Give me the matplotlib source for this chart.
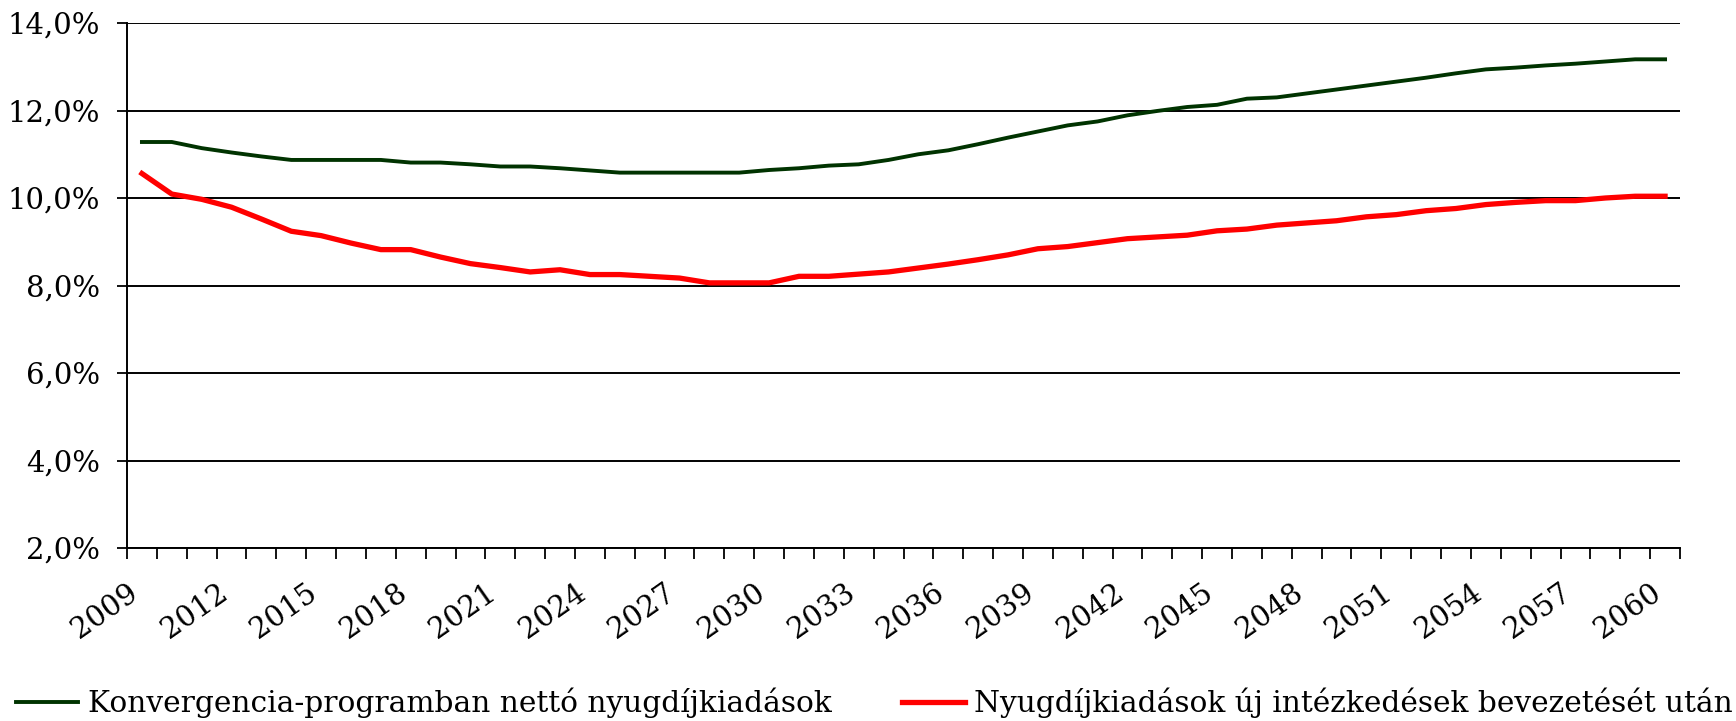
import numpy as np
import matplotlib.pyplot as plt
from matplotlib.ticker import FixedLocator, FuncFormatter

# données (% du PIB), 2009-2060
annees = list(range(2009, 2061))

konvergencia = [11.28, 11.28, 11.14, 11.04, 10.95, 10.87, 10.87, 10.87, 10.87, 10.81,
                10.81, 10.77, 10.72, 10.72, 10.68, 10.63, 10.58, 10.58, 10.58, 10.58,
                10.58, 10.64, 10.68, 10.74, 10.77, 10.87, 11.00, 11.09, 11.23, 11.38,
                11.52, 11.66, 11.75, 11.89, 11.99, 12.08, 12.13, 12.27, 12.30, 12.39,
                12.48, 12.57, 12.66, 12.75, 12.85, 12.94, 12.98, 13.03, 13.07, 13.12,
                13.17, 13.17]

uj_intezkedes = [10.56, 10.09, 9.97, 9.79, 9.52, 9.24, 9.14, 8.97, 8.82, 8.82,
                 8.65, 8.50, 8.41, 8.31, 8.36, 8.25, 8.25, 8.21, 8.17, 8.06,
                 8.06, 8.06, 8.21, 8.21, 8.26, 8.31, 8.40, 8.49, 8.59, 8.70,
                 8.84, 8.89, 8.98, 9.07, 9.11, 9.15, 9.25, 9.29, 9.38, 9.43,
                 9.48, 9.57, 9.62, 9.71, 9.76, 9.85, 9.90, 9.94, 9.94, 10.00,
                 10.04, 10.04]

labels = ["Konvergencia-programban nettó nyugdíjkiadások",
          "Nyugdíjkiadások új intézkedések bevezetését után"]

plt.rcParams['font.family'] = ['DejaVu Serif']
plt.rcParams['font.size'] = 21

x = np.arange(len(annees))

fig = plt.figure(figsize=(17.36, 7.21), dpi=100)
ax = fig.add_axes([127/1736, 1 - 548/721, (1680 - 127)/1736, (548 - 23)/721])

ax.plot(x, konvergencia, color='#003300', lw=2.8, label=labels[0])
ax.plot(x, uj_intezkedes, color='#ff0000', lw=3.8, label=labels[1])

ax.set_xlim(-0.5, len(annees) - 0.5)
ax.set_ylim(2, 14)

# axe Y
ax.set_yticks(np.arange(2, 15, 2))
ax.yaxis.set_major_formatter(FuncFormatter(lambda v, p: f"{v:.1f}%".replace('.', ',')))
ax.grid(axis='y', color='black', lw=1.4)
ax.set_axisbelow(True)
ax.tick_params(axis='y', length=7.5, width=1.3, pad=12)

# axe X : traits entre les catégories, étiquettes tous les 3 ans
ax.set_xticks(x[::3] - 0.5)
ax.set_xticklabels([str(a) for a in annees[::3]], rotation=35, ha='right', va='top',
                   rotation_mode='anchor')
ax.xaxis.set_minor_locator(FixedLocator(np.append(x - 0.5, x[-1] + 0.5)))
ax.tick_params(axis='x', which='both', length=8, width=1.3)
ax.tick_params(axis='x', which='major', pad=14)

for s in ['top', 'right']:
    ax.spines[s].set_visible(False)
for s in ['left', 'bottom']:
    ax.spines[s].set_linewidth(1.4)

fig.legend(loc='center left', bbox_to_anchor=(0.009, 0.025), ncol=2, frameon=False,
           fontsize=21.3, handlelength=2.1, handletextpad=0.33, columnspacing=2.4,
           borderpad=0, borderaxespad=0)

plt.savefig("out.png", dpi=100)
